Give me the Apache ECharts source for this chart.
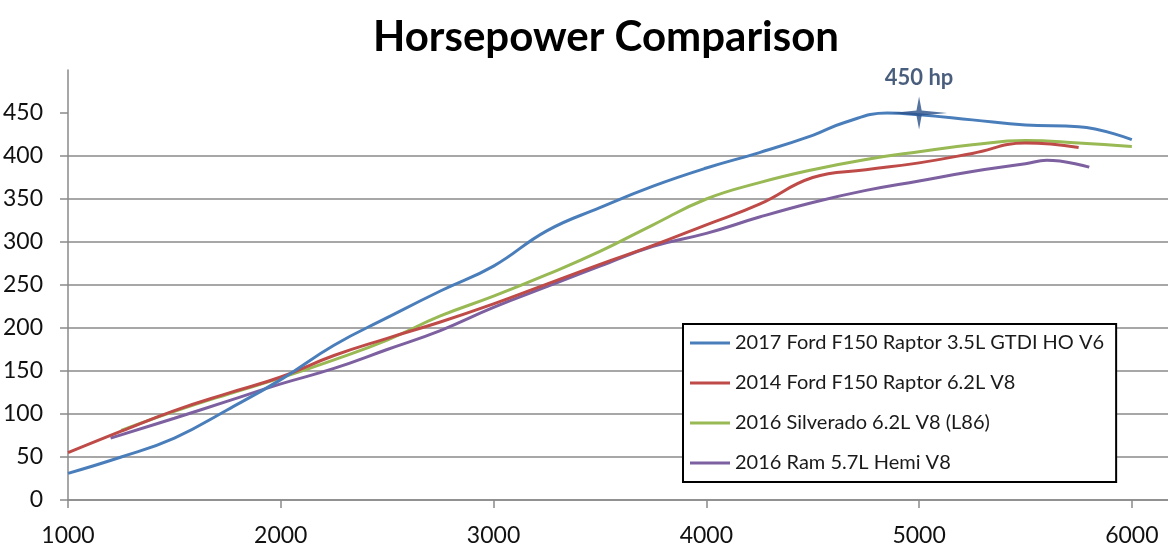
<!DOCTYPE html>
<html>
<head>
<meta charset="utf-8">
<script src="https://cdn.jsdelivr.net/npm/echarts@6/dist/echarts.min.js"></script>
<style>html,body{margin:0;padding:0;background:#fff;}#c{width:1168px;height:550px;}</style>
</head>
<body>
<div id="c"></div>
<script>
const seriesNames = [
  '2017 Ford F150 Raptor 3.5L GTDI HO V6',
  '2014 Ford F150 Raptor 6.2L V8',
  '2016 Silverado 6.2L V8 (L86)',
  '2016 Ram 5.7L Hemi V8'
];
const raptor2017Rpm = [1000,1250,1500,1750,2000,2250,2500,2750,3000,3250,3500,3750,4000,4250,4500,4650,4850,5000,5250,5500,5750,6000];
const raptor2017Hp  = [31,50,72,105,140,180,212,243,272,313,340,365,386,404,424,439,450,448,442,436,434,419];
const raptor2014Rpm = [1000,1250,1500,1750,2000,2250,2500,2750,3000,3250,3500,3750,4000,4250,4500,4750,5000,5250,5500,5750];
const raptor2014Hp  = [55,80,104,124,143,168,188,207,228,251,274,296,320,344,375,384,392,403,415,410];
const silveradoRpm  = [1250,1500,1750,2000,2250,2500,2750,3000,3250,3500,3750,4000,4250,4500,4750,5000,5250,5500,5750,6000];
const silveradoHp   = [81,103,123,142,163,186,214,237,262,289,320,350,369,384,396,405,413,418,415,411];
const ramRpm        = [1200,1500,1750,2000,2250,2500,2750,3000,3250,3500,3750,4000,4250,4500,4750,5000,5250,5500,5600,5800];
const ramHp         = [72,95,115,135,153,175,197,224,248,272,295,310,329,346,360,371,382,391,395,387];
const xTicks = [1000,2000,3000,4000,5000,6000];
const yTicks = [0,50,100,150,200,250,300,350,400,450];
const peakPoint = [5000, 450];
const peakLabel = '450 hp';
const colors = ['#4A7EBB','#BE4B48','#98B954','#7D60A0'];

function zip(xs, ys){ return xs.map((x,i)=>[x, ys[i]]); }
const datasets = [
  zip(raptor2017Rpm, raptor2017Hp),
  zip(raptor2014Rpm, raptor2014Hp),
  zip(silveradoRpm, silveradoHp),
  zip(ramRpm, ramHp)
];
const font = 'Lato, "Open Sans", sans-serif';

const chart = echarts.init(document.getElementById('c'), null, {renderer:'canvas'});
const lineSeries = seriesNames.map((n,i)=>({
  name: n, type: 'line', data: datasets[i], smooth: 0.45, showSymbol: false, symbol: 'none',
  lineStyle: {color: colors[i], width: 3}, itemStyle: {color: colors[i]}, z: 4 - i, animation: false
}));
lineSeries.push({
  type: 'scatter', data: [peakPoint],
  symbol: 'path://M0,-16 L2.6,-2.4 L28,0 L2.6,2.4 L0,16 L-2.6,2.4 L-28,0 L-2.6,-2.4 Z',
  symbolSize: [56, 33], itemStyle: {color: '#2B5089'}, z: 10, animation: false,
  label: {show: true, position: 'top', distance: 8, formatter: peakLabel,
    fontFamily: font, fontWeight: 'bold', fontSize: 22, color: '#1B355C'}
});

chart.setOption({
  backgroundColor: '#fff',
  animation: false,
  title: {
    text: 'Horsepower Comparison', left: 368, top: 11,
    textStyle: {fontFamily: font, fontWeight: 'bold', fontSize: 42, color: '#000'}
  },
  grid: {left: 68, right: 0, top: 70, bottom: 50, containLabel: false},
  legend: {
    data: seriesNames, orient: 'vertical', left: 683, top: 324,
    icon: 'rect', itemWidth: 40, itemHeight: 3, itemGap: 20,
    borderColor: '#000', borderWidth: 2, padding: [9, 12, 9, 7],
    backgroundColor: '#fff',
    textStyle: {fontFamily: font, fontSize: 20, color: '#1a1a1a', lineHeight: 20}
  },
  xAxis: {
    type: 'value', min: 1000, max: 6170, interval: 1000,
    axisLine: {show: true, lineStyle: {color: '#8a8a8a', width: 1.5}},
    axisTick: {show: true, length: 8, customValues: xTicks, lineStyle: {color: '#8a8a8a', width: 1.5}},
    axisLabel: {customValues: xTicks, formatter: v => String(v), fontFamily: font, fontSize: 23, color: '#111', margin: 24},
    splitLine: {show: false}
  },
  yAxis: {
    type: 'value', min: 0, max: 500, interval: 50,
    axisLine: {show: true, lineStyle: {color: '#8a8a8a', width: 1.5}},
    axisTick: {show: true, length: 8, customValues: yTicks, lineStyle: {color: '#8a8a8a', width: 1.5}},
    axisLabel: {customValues: yTicks, formatter: v => String(v), fontFamily: font, fontSize: 23, color: '#111', margin: 25},
    splitLine: {show: true, showMaxLine: false, showMinLine: true, lineStyle: {color: '#8a8a8a', width: 1.5}}
  },
  series: lineSeries
});
</script>
</body>
</html>
